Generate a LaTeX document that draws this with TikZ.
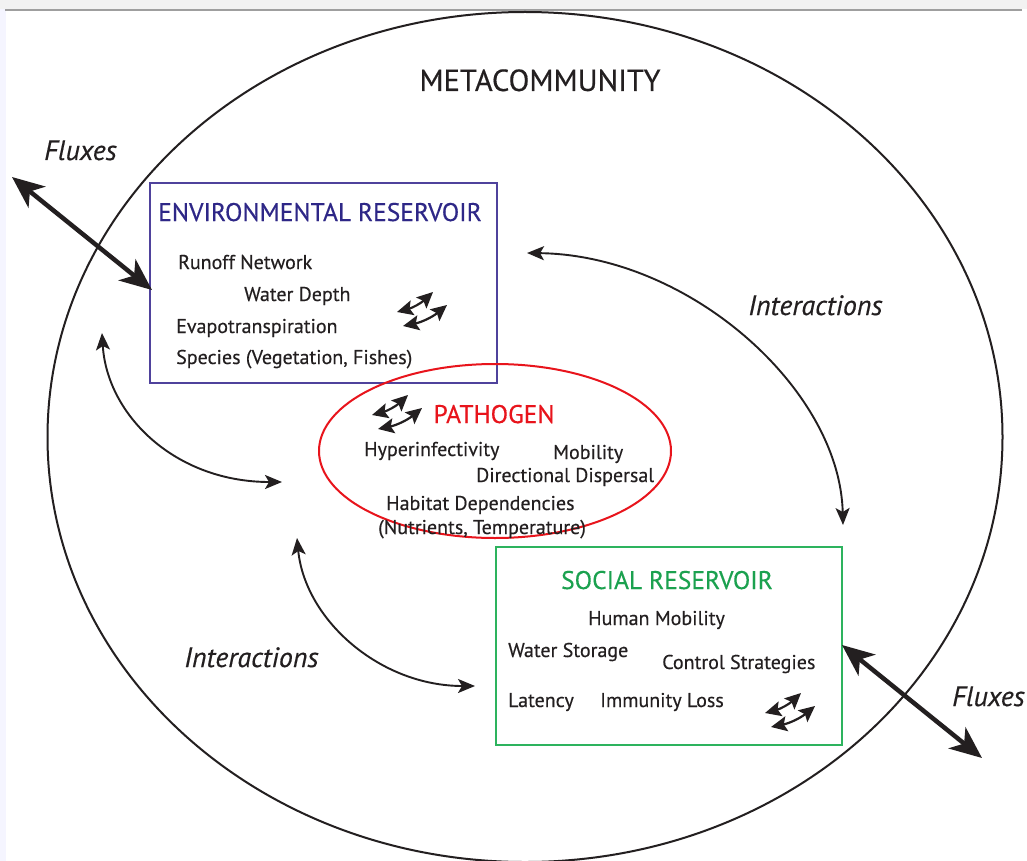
\documentclass[tikz,border=0pt]{standalone}
\usepackage{fontspec}
\setmainfont{PT Sans}[FakeBold=0.35]
\usetikzlibrary{arrows.meta,shapes.geometric}
\definecolor{envline}{HTML}{4F429C}
\definecolor{envtext}{HTML}{2E2787}
\definecolor{pathred}{HTML}{E8141C}
\definecolor{socline}{HTML}{2DB35E}
\definecolor{soctext}{HTML}{1BA14F}
\definecolor{ink}{HTML}{231F20}
\tikzset{
  item/.style={anchor=base west, inner sep=0pt, text=ink, font=\fontsize{20}{24}\selectfont},
  title/.style={anchor=base, inner sep=0pt, font=\fontsize{25.5}{30}\selectfont},
  label/.style={anchor=base west, inner sep=0pt, text=ink, font=\fontsize{28}{32}\selectfont\itshape},
  flux/.style={line width=4.5pt, draw=ink, {Stealth[length=32pt,width=27pt,inset=9pt]}-{Stealth[length=32pt,width=27pt,inset=9pt]}},
  interact/.style={line width=1.9pt, draw=ink, {Stealth[length=17pt,width=14pt,inset=4pt]}-{Stealth[length=17pt,width=14pt,inset=4pt]}},
  swaparrow/.style={line width=2.2pt, draw=ink, {Stealth[length=16pt,width=15pt,inset=3pt]}-{Stealth[length=16pt,width=15pt,inset=3pt]}},
  exchange/.pic={
    \draw[swaparrow] (0,0) to[bend right=14] (36,-20);
    \draw[swaparrow] (6,14) to[bend right=14] (50,-7);
  }
}
\begin{document}
\begin{tikzpicture}[x=1pt,y=-1pt]
\useasboundingbox (0,0) rectangle (1027,861);
\fill[white] (0,0) rectangle (1027,861);
% thin header strip and rule
\fill[gray!10] (0,0) rectangle (1027,9);
\fill[blue!4] (0,9) rectangle (6,861);
\draw[gray!75, line width=1.5pt] (5,10) -- (1022,10);

% metacommunity
\node[draw=ink, line width=2pt, ellipse, minimum width=955pt, minimum height=850pt, inner sep=0pt] (meta) at (525,437) {};
\node[title, text=ink, font=\fontsize{30.5}{34}\selectfont] (metatitle) at (540,91) {METACOMMUNITY};

% environmental reservoir
\node[draw=envline, line width=1.8pt, minimum width=347pt, minimum height=200pt, inner sep=0pt] (env) at (323.5,283) {};
\node[title, text=envtext] (envtitle) at (320,221) {ENVIRONMENTAL RESERVOIR};
\node[item] (runoff) at (178,269) {Runoff Network};
\node[item] (depth) at (244,301) {Water Depth};
\node[item] (evapo) at (176,333) {Evapotranspiration};
\node[item] (species) at (176,364) {Species (Vegetation, Fishes)};
\pic at (397,312) {exchange};

% pathogen
\node[draw=pathred, line width=2pt, ellipse, minimum width=352pt, minimum height=174pt, inner sep=0pt] (path) at (495,451) {};
\node[title, text=pathred] (pathtitle) at (494,423) {PATHOGEN};
\node[item] (hyper) at (364,456) {Hyperinfectivity};
\node[item] (mobility) at (553,459) {Mobility};
\node[item] (dispersal) at (476,482) {Directional Dispersal};
\node[item] (habitat) at (386,510) {Habitat Dependencies};
\node[item] (nutrients) at (378,534) {(Nutrients, Temperature)};
\pic at (372,415) {exchange};

% social reservoir
\node[draw=socline, line width=1.8pt, minimum width=346pt, minimum height=198pt, inner sep=0pt] (soc) at (669,646) {};
\node[title, text=soctext] (soctitle) at (667,589) {SOCIAL RESERVOIR};
\node[item] (human) at (588,625) {Human Mobility};
\node[item] (storage) at (508,657) {Water Storage};
\node[item] (control) at (662,669) {Control Strategies};
\node[item] (latency) at (508,707) {Latency};
\node[item] (immunity) at (600,707) {Immunity Loss};
\pic at (765,713) {exchange};

% fluxes across the metacommunity boundary
\coordinate (fluxinA) at (12,177);
\coordinate (fluxinB) at (152,290);
\coordinate (fluxoutA) at (842,645);
\coordinate (fluxoutB) at (982,758);
\draw[flux] (fluxinA) -- (fluxinB);
\draw[flux] (fluxoutA) -- (fluxoutB);
\node[label] (fluxlabA) at (44,160) {Fluxes};
\node[label] (fluxlabB) at (952,706) {Fluxes};

% interactions between compartments
\coordinate (i1a) at (527,253);
\coordinate (i1b) at (843,525);
\coordinate (i2a) at (102,333);
\coordinate (i2b) at (282,482);
\coordinate (i3a) at (297,538);
\coordinate (i3b) at (475,686);
\draw[interact] (i1a) .. controls (690,255) and (840,390) .. (i1b);
\draw[interact] (i2a) .. controls (107,415) and (175,482) .. (i2b);
\draw[interact] (i3a) .. controls (305,620) and (380,686) .. (i3b);
\node[label] (intlabA) at (748,315) {Interactions};
\node[label] (intlabB) at (184,667) {Interactions};
\end{tikzpicture}
\end{document}
